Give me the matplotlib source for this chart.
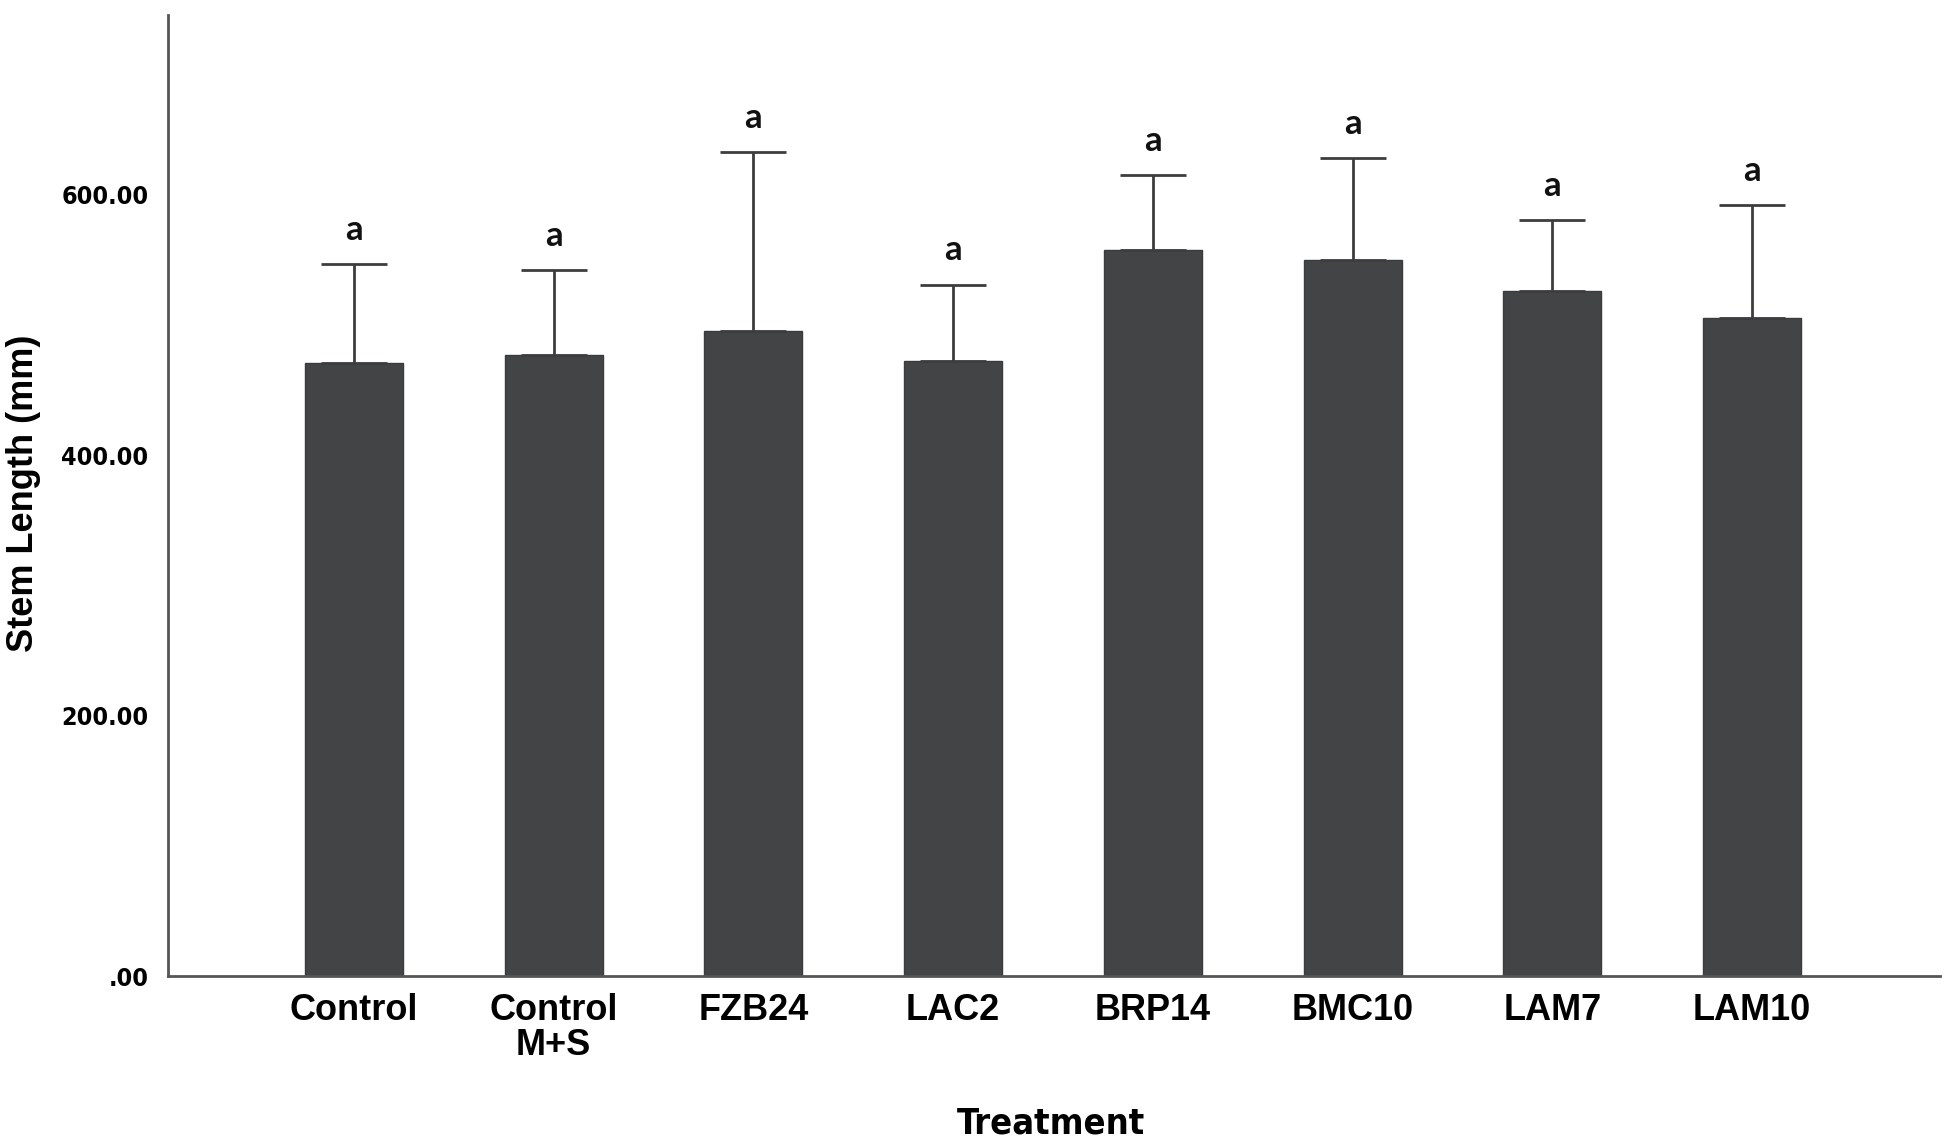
import matplotlib
matplotlib.use("Agg")
import matplotlib.pyplot as plt
from matplotlib import font_manager as fm

categories = ["Control", "Control\nM+S", "FZB24", "LAC2", "BRP14", "BMC10", "LAM7", "LAM10"]
means = [470.5, 477, 495.5, 472.5, 557.5, 550, 526, 505]
upper = [547, 542, 633, 531, 615, 628.5, 580.5, 592]
letters = ["a"] * 8
yticks = [0, 200, 400, 600]
ytick_labels = [".00", "200.00", "400.00", "600.00"]

names = {f.name for f in fm.fontManager.ttflist}
letter_font = "Lato" if "Lato" in names else "DejaVu Sans"
cond = fm.FontProperties(family="DejaVu Sans", weight="bold", stretch="condensed")

fig = plt.figure(figsize=(19.5, 11.46), dpi=100)
ax = fig.add_axes([168/1950, 1 - 976/1146, (1940-168)/1950, (976-15)/1146])

x = list(range(len(categories)))
errs = [u - m for u, m in zip(upper, means)]
ax.bar(x, means, width=0.49, color="#434446", edgecolor="#3a3b3d", linewidth=1, zorder=2)
ax.errorbar(x, means, yerr=[[0]*len(errs), errs], fmt="none", ecolor="#3d3d3f",
            elinewidth=2, capsize=24, capthick=2, zorder=3)
for xi, u, l in zip(x, upper, letters):
    ax.annotate(l, (xi, u), xytext=(0, 13), textcoords="offset points", ha="center",
                va="bottom", fontsize=25, fontweight="bold", family=letter_font, color="#111111")

ax.set_xlim(-0.93, 7.94)
ax.set_ylim(0, 738)
ax.set_yticks(yticks)
ax.set_yticklabels(ytick_labels)
for t in ax.get_yticklabels():
    t.set_fontproperties(cond)
    t.set_fontsize(18)
ax.set_xticks(x)
ax.set_xticklabels(categories, family="Liberation Sans", fontweight="bold", fontsize=26,
                   linespacing=1.0)
ax.tick_params(axis="both", length=0)
ax.tick_params(axis="y", pad=14)
ax.tick_params(axis="x", pad=12)
for s in ["top", "right"]:
    ax.spines[s].set_visible(False)
for s in ["left", "bottom"]:
    ax.spines[s].set_color("#555555")
    ax.spines[s].set_linewidth(2)

fig.text(24/1950, 1 - 493/1146, "Stem Length (mm)", rotation=90, ha="center", va="center",
         family="Liberation Sans", fontweight="bold", fontsize=26)
t = fig.text(1051/1950, 1 - 1123/1146, "Treatment", ha="center", va="center")
t.set_fontproperties(cond)
t.set_fontsize(26)

fig.savefig("out.png", dpi=100, facecolor="white")
